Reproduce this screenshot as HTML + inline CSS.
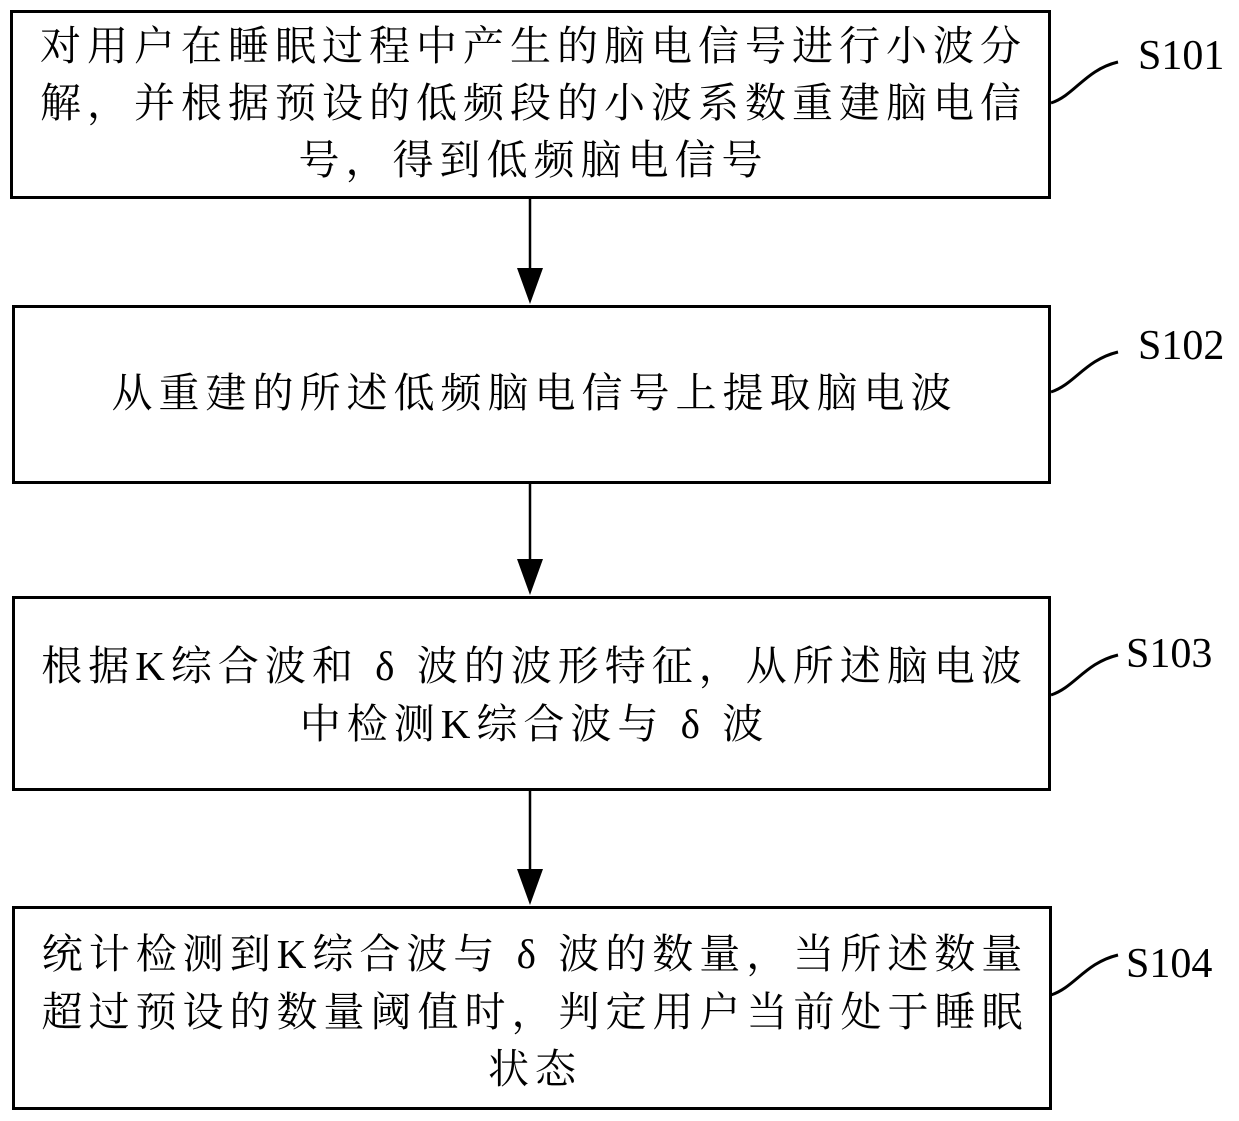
<!DOCTYPE html>
<html><head><meta charset="utf-8"><style>
body{margin:0;width:1239px;height:1121px;background:#fff;position:relative;overflow:hidden;font-family:"Liberation Serif","Noto Serif CJK SC",serif;color:#000}
.b{position:absolute;border:3px solid #000;box-sizing:border-box;background:#fff}
.t{position:absolute;left:0;width:100%;text-align:center;font-size:41px;letter-spacing:6px;text-indent:6px;line-height:44px;white-space:nowrap}
.l{position:absolute;font-size:42px;font-family:"Liberation Serif",serif}
svg{position:absolute;left:0;top:0}
</style></head><body>
<svg width="1239" height="1121">
<g stroke="#000" stroke-width="2.5" fill="none">
<line x1="530" y1="198" x2="530" y2="272"/>
<line x1="530" y1="484" x2="530" y2="563"/>
<line x1="530" y1="790" x2="530" y2="873"/>
<path d="M1051 103 C1075 95,1085 70,1118 62" stroke-width="3"/>
<path d="M1051 392 C1075 384,1085 360,1118 352" stroke-width="3"/>
<path d="M1051 695 C1075 687,1085 663,1118 655" stroke-width="3"/>
<path d="M1051 995 C1075 987,1085 963,1118 955" stroke-width="3"/>
</g>
<g fill="#000">
<polygon points="517,268 543,268 530,304"/>
<polygon points="517,559 543,559 530,595"/>
<polygon points="517,869 543,869 530,905"/>
</g>
</svg>
<div class="b" style="left:10px;top:10px;width:1041px;height:189px">
<div class="t" style="top:11px">对用户在睡眠过程中产生的脑电信号进行小波分</div>
<div class="t" style="top:68px">解，并根据预设的低频段的小波系数重建脑电信</div>
<div class="t" style="top:125px">号，得到低频脑电信号</div>
</div>
<div class="b" style="left:12px;top:305px;width:1039px;height:179px">
<div class="t" style="top:63px">从重建的所述低频脑电信号上提取脑电波</div>
</div>
<div class="b" style="left:12px;top:596px;width:1039px;height:195px">
<div class="t" style="top:45px">根据K综合波和&nbsp;δ&nbsp;波的波形特征，从所述脑电波</div>
<div class="t" style="top:103px">中检测K综合波与&nbsp;δ&nbsp;波</div>
</div>
<div class="b" style="left:12px;top:906px;width:1040px;height:204px">
<div class="t" style="top:23px">统计检测到K综合波与&nbsp;δ&nbsp;波的数量，当所述数量</div>
<div class="t" style="top:81px">超过预设的数量阈值时，判定用户当前处于睡眠</div>
<div class="t" style="top:138px">状态</div>
</div>
<div class="l" style="left:1138px;top:32px">S101</div>
<div class="l" style="left:1138px;top:322px">S102</div>
<div class="l" style="left:1126px;top:630px">S103</div>
<div class="l" style="left:1126px;top:940px">S104</div>
</body></html>
